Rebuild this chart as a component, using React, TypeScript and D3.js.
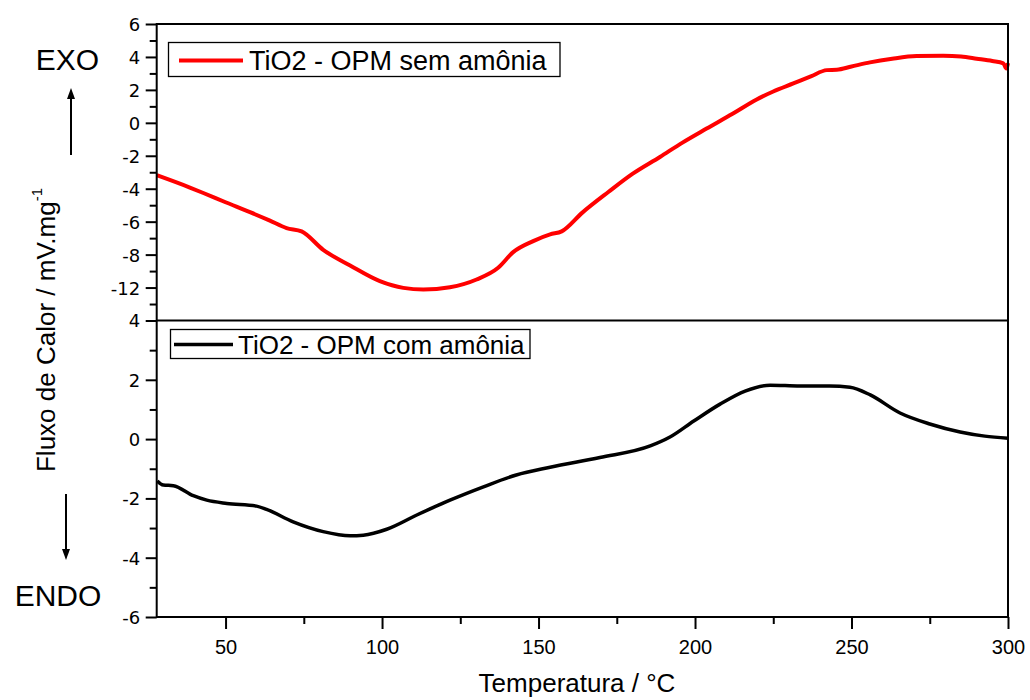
import * as d3 from 'd3'
import { useEffect, useRef } from 'react'

// temperatura (°C) e fluxo de calor
const semTemp = [28, 38.6, 42.9, 50, 57.8, 64, 69.5, 74.3, 81.2, 89.8, 99.3, 106.8, 113.2, 121.7, 130.2, 137.1, 141.9, 148.3, 153.7, 157.4, 164, 172.3, 180, 188.8, 196, 203.7, 212, 219.7, 225, 231.4, 237, 242.1, 245.3, 250, 255.9, 263, 270.8, 279.3, 285, 290, 295, 298.5, 299.5, 300]
const semFluxo = [-3.18, -3.93, -4.26, -4.82, -5.42, -5.92, -6.39, -6.59, -7.71, -8.66, -9.61, -10.02, -10.12, -9.98, -9.51, -8.8, -7.85, -7.18, -6.77, -6.59, -5.45, -4.2, -3.1, -2.07, -1.2, -0.35, 0.55, 1.42, 1.9, 2.39, 2.82, 3.2, 3.22, 3.42, 3.67, 3.89, 4.05, 4.07, 4.02, 3.89, 3.75, 3.61, 3.3, 3.62]

const comTemp = [28.2, 30.1, 33.3, 39.7, 44, 50.4, 59.9, 63.1, 71.6, 81.2, 89.8, 94, 101.5, 111.1, 121.7, 132.4, 142.9, 153.7, 169.6, 185.7, 192, 199.6, 208, 216, 224, 233.5, 243, 249.5, 256, 265.5, 275, 284.7, 292.6, 300]
const comFluxo = [-1.41, -1.55, -1.57, -1.91, -2.06, -2.17, -2.26, -2.37, -2.79, -3.12, -3.26, -3.24, -3.04, -2.56, -2.06, -1.61, -1.21, -0.95, -0.62, -0.23, 0.07, 0.61, 1.18, 1.62, 1.82, 1.79, 1.79, 1.75, 1.49, 0.88, 0.51, 0.24, 0.1, 0.03]

const xTicks = [50, 100, 150, 200, 250, 300]
const xMinor = [75, 125, 175, 225, 275]
const topTicks = [-12, -10, -8, -6, -4, -2, 0, 2, 4, 6]
const topLabels = ['4', '-12', '-8', '-6', '-4', '-2', '0', '2', '4', '6']
const topMinor = [-11, -9, -7, -5, -3, -1, 1, 3, 5]
const botTicks = [-6, -4, -2, 0, 2]
const botMinor = [-5, -3, -1, 1, 3]

const legendSem = 'TiO2 - OPM sem amônia'
const legendCom = 'TiO2 - OPM com amônia'

const App = () => {
  const svgRef = useRef<SVGSVGElement | null>(null)
  const width = 1030
  const height = 700
  const left = 156.7
  const right = 1008
  const top = 24
  const mid = 320.5
  const bottom = 617

  useEffect(() => {
    const svg = d3.select(svgRef.current)
    svg.selectAll('*').remove()

    const x = d3.scaleLinear([28, 300], [left, right])
    const yTop = d3.scaleLinear([-12, 6], [mid, top])
    const yBot = d3.scaleLinear([-6, 4], [bottom, mid])

    const font = 'Liberation Sans, Arial, sans-serif'

    // curves
    const semData = semTemp.map((t, i) => [t, semFluxo[i]] as [number, number])
    const comData = comTemp.map((t, i) => [t, comFluxo[i]] as [number, number])
    const lineTop = d3.line<[number, number]>().x(d => x(d[0])).y(d => yTop(d[1])).curve(d3.curveMonotoneX)
    const lineBot = d3.line<[number, number]>().x(d => x(d[0])).y(d => yBot(d[1])).curve(d3.curveMonotoneX)

    svg.append('path')
      .attr('fill', 'none')
      .attr('stroke', '#ff0000')
      .attr('stroke-width', 4)
      .attr('stroke-linejoin', 'round')
      .attr('d', lineTop(semData))
    svg.append('path')
      .attr('fill', 'none')
      .attr('stroke', '#000')
      .attr('stroke-width', 3.5)
      .attr('stroke-linejoin', 'round')
      .attr('d', lineBot(comData))

    // frame
    svg.append('rect')
      .attr('x', left).attr('y', top)
      .attr('width', right - left).attr('height', bottom - top)
      .attr('fill', 'none').attr('stroke', '#000').attr('stroke-width', 2)
    svg.append('line')
      .attr('x1', left).attr('x2', right).attr('y1', mid).attr('y2', mid)
      .attr('stroke', '#000').attr('stroke-width', 2)

    const styleAxis = (g: any) => {
      g.select('.domain').remove()
      g.selectAll('.tick line').attr('stroke-width', 2)
    }
    const styleY = (g: any) => g.selectAll('text')
      .attr('x', -16.5).attr('dy', '0.36em')
      .attr('font-family', 'DejaVu Sans, sans-serif').attr('font-size', 18).attr('fill', '#000')

    // y axes
    svg.append('g')
      .attr('transform', `translate(${left},0)`)
      .call(d3.axisLeft(yTop).tickValues(topTicks).tickSize(11)
        .tickFormat((_d, i) => topLabels[i]))
      .call(styleAxis)
      .call(styleY)
    svg.append('g')
      .attr('transform', `translate(${left},0)`)
      .call(d3.axisLeft(yTop).tickValues(topMinor).tickSize(7).tickFormat(() => ''))
      .call(styleAxis)
    svg.append('g')
      .attr('transform', `translate(${left},0)`)
      .call(d3.axisLeft(yBot).tickValues(botTicks).tickSize(11).tickFormat(d => String(d)))
      .call(styleAxis)
      .call(styleY)
    svg.append('g')
      .attr('transform', `translate(${left},0)`)
      .call(d3.axisLeft(yBot).tickValues(botMinor).tickSize(7).tickFormat(() => ''))
      .call(styleAxis)

    // x axis
    svg.append('g')
      .attr('transform', `translate(0,${bottom})`)
      .call(d3.axisBottom(x).tickValues(xTicks).tickSize(12).tickFormat(d => String(d)))
      .call(styleAxis)
      .call(g => g.selectAll('text')
        .attr('y', 37).attr('dy', 0)
        .attr('font-family', font).attr('font-size', 20).attr('fill', '#000'))
    svg.append('g')
      .attr('transform', `translate(0,${bottom})`)
      .call(d3.axisBottom(x).tickValues(xMinor).tickSize(7).tickFormat(() => ''))
      .call(styleAxis)

    // axis titles
    svg.append('text')
      .attr('x', 577).attr('y', 692)
      .attr('text-anchor', 'middle')
      .attr('font-family', font).attr('font-size', 26)
      .text('Temperatura / °C')

    const yt = svg.append('text')
      .attr('transform', 'translate(55,330) rotate(-90)')
      .attr('text-anchor', 'middle')
      .attr('font-family', font).attr('font-size', 26)
    yt.append('tspan').text('Fluxo de Calor / mV.mg')
    yt.append('tspan').attr('font-size', 15).attr('dy', -13).text('-1')

    // EXO / ENDO
    svg.append('text')
      .attr('x', 67.5).attr('y', 70)
      .attr('text-anchor', 'middle')
      .attr('font-family', font).attr('font-size', 30)
      .text('EXO')
    svg.append('text')
      .attr('x', 58).attr('y', 606)
      .attr('text-anchor', 'middle')
      .attr('font-family', font).attr('font-size', 30)
      .text('ENDO')

    const arrow = (ax: number, y1: number, y2: number) => {
      const dir = y2 < y1 ? -1 : 1
      svg.append('line')
        .attr('x1', ax).attr('x2', ax).attr('y1', y1).attr('y2', y2 - dir * 10)
        .attr('stroke', '#000').attr('stroke-width', 2)
      svg.append('path')
        .attr('d', `M${ax - 4},${y2 - dir * 11}L${ax},${y2}L${ax + 4},${y2 - dir * 11}Z`)
        .attr('fill', '#000')
    }
    arrow(71, 155, 88)
    arrow(66, 494, 560)

    // legends
    const legend = (bx: number, by: number, bw: number, bh: number, x1: number, x2: number, ly: number, color: string, sw: number, label: string, fs: number, tx: number) => {
      svg.append('rect')
        .attr('x', bx).attr('y', by).attr('width', bw).attr('height', bh)
        .attr('fill', '#fff').attr('stroke', '#000').attr('stroke-width', 1.3)
      svg.append('line')
        .attr('x1', x1).attr('x2', x2).attr('y1', ly).attr('y2', ly)
        .attr('stroke', color).attr('stroke-width', sw)
      svg.append('text')
        .attr('x', tx).attr('y', ly + fs * 0.36)
        .attr('font-family', font).attr('font-size', fs)
        .text(label)
    }
    legend(168.5, 42.5, 391.5, 34, 179, 243, 60.5, '#ff0000', 4, legendSem, 27, 249)
    legend(170.5, 329.5, 359.5, 29, 174, 233, 344.5, '#000', 3.5, legendCom, 26, 238)
  }, [])

  return (
    <svg ref={svgRef} width={width} height={height}
      style={{ position: 'absolute', left: 0, top: 0, background: '#fff' }} />
  )
}

export default App
